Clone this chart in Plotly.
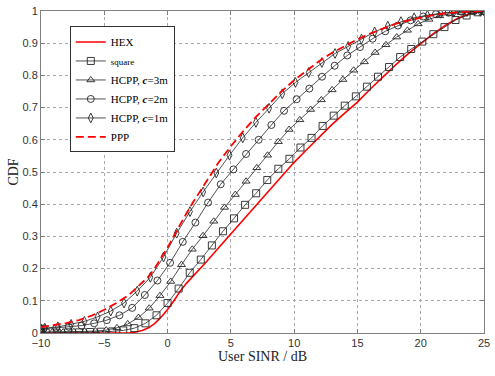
import plotly.graph_objects as go

# ---------------- data ----------------
hex_x = [-10, -9, -8, -7, -6, -5, -4, -3, -2.5, -2, -1.5, -1, -0.5, 0, 0.5, 1, 1.5, 2,
         3, 4, 5, 6, 7, 8, 9, 10, 11, 12, 13, 14, 15, 16, 17, 18, 19, 20, 21, 22, 23, 24, 25]
hex_y = [0.0, 0.0, 0.0, 0.0, 0.0, 0.0, 0.0005, 0.001, 0.003, 0.008, 0.016, 0.03, 0.05, 0.073, 0.10, 0.13, 0.155, 0.175,
         0.218, 0.263, 0.308, 0.353, 0.397, 0.44, 0.485, 0.53, 0.57, 0.61, 0.648, 0.683, 0.717, 0.757, 0.795, 0.832, 0.867, 0.90,
         0.93, 0.957, 0.979, 0.993, 1.0]

square_x = [-10, -9.625, -8.75, -7.875, -7.0, -6.125, -5.25, -4.375, -3.5, -2.625, -1.75, -0.875, 0, 0.875,
            1.75, 2.625, 3.5, 4.375, 5.25, 6.125, 7.0, 7.875, 8.75, 9.625, 10.5, 11.375, 12.25, 13.125, 14.0,
            14.875, 15.75, 16.625, 17.5, 18.375, 19.25, 20.125, 21.0, 21.875, 22.75, 23.625, 24.5, 25]
square_y = [0.0, 0.001, 0.001, 0.002, 0.002, 0.003, 0.004, 0.005, 0.008, 0.015, 0.03, 0.055, 0.093, 0.138,
            0.187, 0.228, 0.272, 0.316, 0.356, 0.398, 0.434, 0.475, 0.51, 0.541, 0.576, 0.606, 0.643, 0.675, 0.706,
            0.735, 0.765, 0.796, 0.826, 0.857, 0.882, 0.905, 0.928, 0.95, 0.972, 0.986, 0.996, 1.0]

c3_x = [-10, -9.1, -8.25, -7.4, -6.55, -5.7, -4.85, -4.0, -3.15, -2.3, -1.45, -0.6, 0.25, 1.1, 1.95, 2.8,
        3.65, 4.5, 5.35, 6.2, 7.05, 7.9, 8.75, 9.6, 10.45, 11.3, 12.15, 13.0, 13.85, 14.7, 15.55, 16.4, 17.25,
        18.1, 18.95, 19.8, 20.65, 21.5, 22.35, 23.2, 24.05, 24.9]
c3_y = [0.003, 0.003, 0.003, 0.004, 0.005, 0.006, 0.009, 0.016, 0.028, 0.048, 0.077, 0.116, 0.16, 0.212, 0.26, 0.302,
        0.347, 0.39, 0.43, 0.471, 0.513, 0.552, 0.594, 0.632, 0.662, 0.694, 0.724, 0.755, 0.787, 0.816, 0.842, 0.871, 0.895,
        0.919, 0.94, 0.96, 0.974, 0.985, 0.991, 0.995, 0.998, 1.0]

c2_x = [-10, -9.8, -8.8, -7.8, -6.8, -5.8, -4.8, -3.8, -2.8, -1.8, -0.8, 0.2, 1.2, 2.2, 3.2, 4.2, 5.2, 6.2,
        7.2, 8.2, 9.2, 10.2, 11.2, 12.2, 13.2, 14.2, 15.2, 16.2, 17.2, 18.2, 19.2, 20.2, 21.2, 22.2, 23.2, 24.2, 25]
c2_y = [0.013, 0.014, 0.016, 0.019, 0.023, 0.03, 0.04, 0.055, 0.078, 0.118, 0.163, 0.218, 0.283, 0.343, 0.405, 0.462,
        0.508, 0.556, 0.60, 0.646, 0.69, 0.726, 0.759, 0.796, 0.83, 0.862, 0.888, 0.914, 0.937, 0.955, 0.971, 0.983,
        0.99, 0.995, 0.998, 0.999, 1.0]

c1_x = [-10, -9.7, -8.66, -7.62, -6.57, -5.53, -4.49, -3.44, -2.4, -1.36, -0.32, 0.72, 1.77, 2.81, 3.85, 4.89,
        5.94, 6.98, 8.02, 9.06, 10.1, 11.15, 12.19, 13.23, 14.27, 15.32, 16.36, 17.4, 18.44, 19.48, 20.53, 21.57,
        22.61, 23.65, 24.7, 25]
c1_y = [0.013, 0.015, 0.019, 0.027, 0.036, 0.05, 0.068, 0.093, 0.13, 0.173, 0.236, 0.31, 0.377, 0.438, 0.497, 0.552,
        0.606, 0.654, 0.698, 0.743, 0.778, 0.809, 0.84, 0.868, 0.89, 0.913, 0.935, 0.953, 0.967, 0.979, 0.987, 0.993,
        0.996, 0.998, 0.999, 1.0]

ppp_x = [-10, -9, -8, -7, -6, -5, -4, -3, -2, -1.5, -1, -0.5, 0, 0.5, 1, 1.5, 2, 3, 4, 5, 6, 7, 8, 9, 10,
         11, 12, 13, 14, 15, 16, 17, 18, 19, 20, 21, 22, 23, 24, 25]
ppp_y = [0.018, 0.024, 0.031, 0.04, 0.054, 0.072, 0.094, 0.12, 0.155, 0.175, 0.202, 0.232, 0.265, 0.302, 0.338, 0.372,
         0.405, 0.468, 0.528, 0.58, 0.628, 0.672, 0.712, 0.75, 0.785, 0.816, 0.845, 0.87, 0.892, 0.912, 0.93, 0.946,
         0.96, 0.971, 0.98, 0.987, 0.993, 0.997, 0.999, 1.0]

x_ticks = [-10, -5, 0, 5, 10, 15, 20, 25]
y_ticks = [0, 0.1, 0.2, 0.3, 0.4, 0.5, 0.6, 0.7, 0.8, 0.9, 1]
y_tick_labels = ["0", "0.1", "0.2", "0.3", "0.4", "0.5", "0.6", "0.7", "0.8", "0.9", "1"]

# ---------------- figure ----------------
SERIF = "Liberation Serif, Times New Roman, serif"
SANS = "Liberation Sans, Arial, sans-serif"
LINE = "#262626"

fig = go.Figure()
fig.add_trace(go.Scatter(x=hex_x, y=hex_y, mode="lines", name="HEX",
                         line=dict(color="#ff0000", width=1.6)))

marker_common = dict(size=7, color=LINE, line=dict(color=LINE, width=0.9))
fig.add_trace(go.Scatter(x=square_x, y=square_y, mode="lines+markers",
                         name="<span style='font-size:9px'>square</span>",
                         line=dict(color=LINE, width=0.8),
                         marker=dict(symbol="square-open", **marker_common)))
fig.add_trace(go.Scatter(x=c3_x, y=c3_y, mode="lines+markers",
                         name="HCPP, <b><i>c</i></b>=3m",
                         line=dict(color=LINE, width=0.8),
                         marker=dict(symbol="triangle-up-open", **marker_common)))
fig.add_trace(go.Scatter(x=c2_x, y=c2_y, mode="lines+markers",
                         name="HCPP, <b><i>c</i></b>=2m",
                         line=dict(color=LINE, width=0.8),
                         marker=dict(symbol="circle-open", **marker_common)))
fig.add_trace(go.Scatter(x=c1_x, y=c1_y, mode="lines+markers",
                         name="HCPP, <b><i>c</i></b>=1m",
                         line=dict(color=LINE, width=0.8),
                         marker=dict(symbol="diamond-tall-open", **marker_common)))
fig.add_trace(go.Scatter(x=ppp_x, y=ppp_y, mode="lines", name="PPP",
                         line=dict(color="#ff0000", width=1.8, dash="8px,4px")))

axis_common = dict(
    showline=True, linecolor="#808080", linewidth=1, mirror="ticks",
    ticks="inside", ticklen=4, tickcolor="#808080",
    showgrid=True, gridcolor="#a8a8a8", griddash="dot", gridwidth=1,
    zeroline=False, ticklabeloverflow="allow",
    tickfont=dict(family=SANS, size=11, color="#333333"),
)

fig.update_layout(
    width=495, height=376,
    margin=dict(l=41, r=5, t=6, b=43),
    paper_bgcolor="white", plot_bgcolor="white",
    showlegend=True,
    legend=dict(x=0.065, y=0.952, xanchor="left", yanchor="top",
                bgcolor="white", bordercolor="#333333", borderwidth=1,
                font=dict(family=SERIF, size=11, color="black"),
                itemwidth=30, tracegroupgap=0),
    xaxis=dict(range=[-10, 25], tickvals=x_ticks,
               title=dict(text="User SINR / dB", font=dict(family=SERIF, size=14, color="#222222"),
                          standoff=1),
               **axis_common),
    yaxis=dict(range=[0, 1], tickvals=y_ticks, ticktext=y_tick_labels,
               title=dict(text="CDF", font=dict(family=SERIF, size=14, color="#222222"),
                          standoff=0),
               **axis_common),
)

fig.write_html("out.html", config={"displayModeBar": False},
               post_script="document.body.style.margin='0';")
